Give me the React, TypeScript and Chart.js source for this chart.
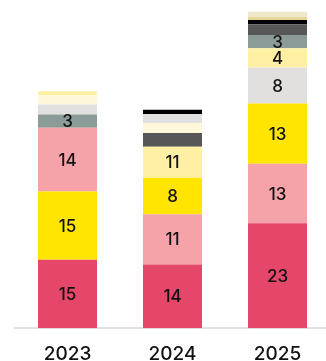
import React, { useEffect, useRef } from "react";
import { Chart, registerables } from "chart.js";

Chart.register(...registerables);

const years = ["2023", "2024", "2025"];

const RED = "#e5476b";
const PINK = "#f5a3a9";
const YELLOW = "#ffe500";
const LIGHT_YELLOW = "#fff0a3";
const CREAM = "#fff7d9";
const LIGHT_GREY = "#e1e0de";
const GREY_GREEN = "#8b9b97";
const DARK_GREY = "#575757";
const BLACK = "#000000";
const TAN = "#e5d69b";
const BEIGE = "#efe8cb";

// stack layers, bottom to top (values per year)
const layer1 = [15, 14, 23];
const layer2 = [15, 11, 13.1];
const layer3 = [14, 8, 13.2];
const layer4 = [2.9, 6.8, 7.9];
const layer5 = [2.2, 3, 4.2];
const layer6 = [2, 2.2, 2.9];
const layer7 = [0.9, 2, 2.4];
const layer8 = [0, 0.9, 0.9];
const layer9 = [0, 0, 0.7];
const layer10 = [0, 0, 1.1];

const colors1 = [RED, RED, RED];
const colors2 = [YELLOW, PINK, PINK];
const colors3 = [PINK, YELLOW, YELLOW];
const colors4 = [GREY_GREEN, LIGHT_YELLOW, LIGHT_GREY];
const colors5 = [LIGHT_GREY, DARK_GREY, LIGHT_YELLOW];
const colors6 = [CREAM, CREAM, GREY_GREEN];
const colors7 = [LIGHT_YELLOW, LIGHT_GREY, DARK_GREY];
const colors8 = [BLACK, BLACK, BLACK];
const colors9 = [TAN, TAN, TAN];
const colors10 = [BEIGE, BEIGE, BEIGE];

const labels1 = ["15", "14", "23"];
const labels2 = ["15", "11", "13"];
const labels3 = ["14", "8", "13"];
const labels4 = ["3", "11", "8"];
const labels5 = ["", "", "4"];
const labels6 = ["", "", "3"];

const layers = [
  { data: layer1, colors: colors1, labels: labels1 },
  { data: layer2, colors: colors2, labels: labels2 },
  { data: layer3, colors: colors3, labels: labels3 },
  { data: layer4, colors: colors4, labels: labels4 },
  { data: layer5, colors: colors5, labels: labels5 },
  { data: layer6, colors: colors6, labels: labels6 },
  { data: layer7, colors: colors7, labels: [] as string[] },
  { data: layer8, colors: colors8, labels: [] as string[] },
  { data: layer9, colors: colors9, labels: [] as string[] },
  { data: layer10, colors: colors10, labels: [] as string[] },
];

const segLabelPlugin = {
  id: "segLabels",
  afterDatasetsDraw(chart: any) {
    const ctx = chart.ctx;
    ctx.save();
    ctx.font = "500 17px Inter";
    ctx.fillStyle = "#111111";
    ctx.textAlign = "center";
    ctx.textBaseline = "middle";
    chart.data.datasets.forEach((ds: any, di: number) => {
      const meta = chart.getDatasetMeta(di);
      const texts: string[] = ds.segLabels || [];
      meta.data.forEach((el: any, i: number) => {
        const t = texts[i];
        if (!t) return;
        ctx.fillText(t, el.x, (el.y + el.base) / 2 + 1);
      });
    });
    ctx.restore();
  },
};

export default function App() {
  const ref = useRef<HTMLCanvasElement | null>(null);
  useEffect(() => {
    if (!ref.current) return;
    const chart = new Chart(ref.current, {
      type: "bar",
      data: {
        labels: years,
        datasets: layers.map((l, i) => ({
          label: "layer" + (i + 1),
          data: l.data,
          backgroundColor: l.colors,
          borderWidth: 0,
          categoryPercentage: 1,
          barPercentage: 0.562,
          segLabels: l.labels,
        })) as any,
      },
      options: {
        animation: false,
        responsive: true,
        maintainAspectRatio: false,
        layout: { padding: { left: 15, right: 0, top: 0, bottom: -12 } },
        plugins: { legend: { display: false }, tooltip: { enabled: false } },
        scales: {
          x: {
            stacked: true,
            grid: { display: false },
            border: { display: true, color: "#e2e2e2", width: 2 },
            ticks: {
              color: "#111111",
              font: { family: "Inter", size: 19, weight: 500 },
              padding: 7,
            },
          },
          y: {
            stacked: true,
            display: false,
            min: 0,
            max: 72,
          },
        },
      },
      plugins: [segLabelPlugin],
    });
    return () => chart.destroy();
  }, []);
  return (
    <div style={{ position: "absolute", left: 0, top: 0, width: 326, height: 361, overflow: "hidden", background: "#fff" }}>
      <div style={{ position: "relative", width: 330, height: 361 }}>
        <canvas ref={ref} />
      </div>
    </div>
  );
}
